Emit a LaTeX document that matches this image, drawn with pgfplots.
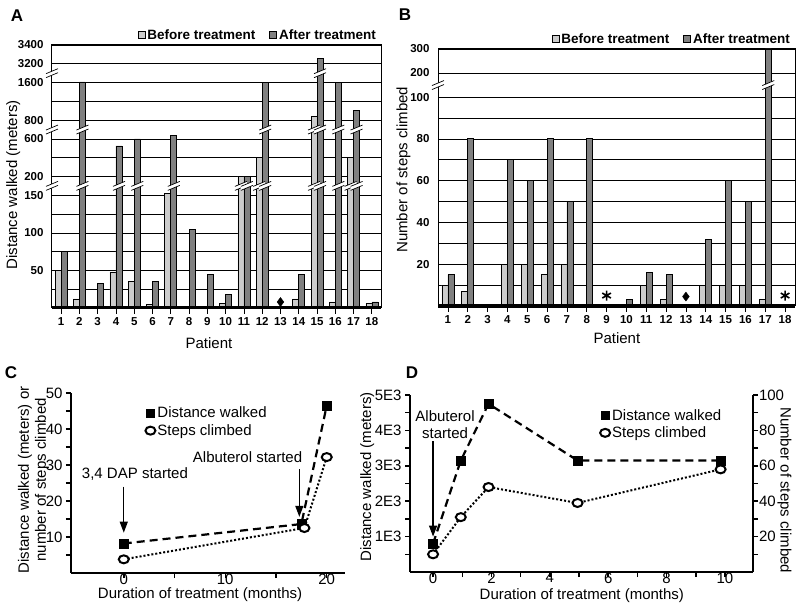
\documentclass[border=0pt]{standalone}
\usepackage{pgfplots}
\pgfplotsset{compat=1.18}
\usepackage{fontspec}
\setmainfont{Liberation Sans}
\usetikzlibrary{arrows.meta}

% double slash used for the axis breaks
\pgfdeclareplotmark{brk}{%
  \pgfpathmoveto{\pgfqpoint{-6pt}{-4.5pt}}%
  \pgfpathlineto{\pgfqpoint{6pt}{0.5pt}}%
  \pgfpathlineto{\pgfqpoint{6pt}{4.5pt}}%
  \pgfpathlineto{\pgfqpoint{-6pt}{-0.5pt}}%
  \pgfpathclose
  \pgfsetfillcolor{white}\pgfusepath{fill}%
  \pgfpathmoveto{\pgfqpoint{-6pt}{-4.5pt}}\pgfpathlineto{\pgfqpoint{6pt}{0.5pt}}%
  \pgfpathmoveto{\pgfqpoint{-6pt}{-0.5pt}}\pgfpathlineto{\pgfqpoint{6pt}{4.5pt}}%
  \pgfusepath{stroke}}

\pgfplotsset{
  /pgf/number format/assume math mode=true,
  barpanel/.style={
    scale only axis, anchor=south west,
    xmin=0.5, xmax=18.5, xtick={1,...,18}, xtick pos=bottom,
    tick align=outside, major tick length=6pt,
    ytick style={draw=none}, xtick style={black, line width=0.8pt},
    ymajorgrids, yminorgrids,
    grid style={black, line width=0.6pt}, minor grid style={black, line width=0.6pt},
    axis line style={line width=1pt},
    ticklabel style={font=\bfseries\fontsize{11.5}{12}\selectfont},
    yticklabel style={xshift=1pt},
    label style={font=\fontsize{15}{17}\selectfont},
    clip=false,
    legend columns=2,
    legend style={draw=none, fill=none, font=\bfseries\fontsize{13.5}{15}\selectfont,
      at={(1,1)}, anchor=south east,
      /tikz/every even column/.append style={column sep=12pt}},
    legend image code/.code={\draw[##1, line width=0.6pt] (-2pt,-3.5pt) rectangle (5pt,3.5pt);},
  },
  before/.style={ybar, bar width=6pt, bar shift=-3pt, fill=gray!40, draw=black, line width=0.7pt},
  after/.style={ybar, bar width=6pt, bar shift=3pt, fill=gray, draw=black, line width=0.7pt},
  linepanel/.style={
    scale only axis, anchor=south west,
    axis x line*=bottom, axis y line*=left,
    axis line style={line width=2.5pt, -},
    tick align=outside, major tick length=5pt, minor tick length=5pt,
    tick style={black, line width=1.5pt},
    ticklabel style={font=\fontsize{15}{15}\selectfont},
    xticklabel style={yshift=8pt},
    label style={font=\fontsize{15}{17}\selectfont},
    legend cell align=left,
    legend style={draw=none, fill=none, font=\fontsize{15}{15}\selectfont, row sep=1pt},
  },
  dist/.style={black, line width=2.2pt, dash pattern=on 8pt off 5pt,
    mark=square*, mark size=4.5pt, mark options={solid, line width=0.5pt}},
  steps/.style={black, line width=2pt, dash pattern=on 2pt off 2pt,
    mark=*, mark size=5pt, mark options={solid, fill=white, line width=2pt, yscale=0.8}},
}

\begin{document}
\begin{tikzpicture}
\path[use as bounding box] (0,0) rectangle (800pt,610pt);

% ---------------- A ----------------
\begin{axis}[barpanel, at={(52pt,302pt)}, width=329pt, height=263pt,
  ymin=0, ymax=14,
  y filter/.expression={min(y,150)/25+min(max(y-150,0),50)/50+min(max(y-200,0),400)/200+min(max(y-600,0),200)/200+min(max(y-800,0),800)/400+min(max(y-1600,0),1600)/1600+max(y-3200,0)/200},
  ytick={2,4,6,7,9,10,12,13,14},
  yticklabels={50,100,150,200,600,800,1600,3200,3400},
  minor ytick={1,3,5,8,11},
  ylabel={Distance walked (meters)}, xlabel={Patient},
  ylabel style={at={(axis description cs:-0.118,0.468)}, anchor=center},
  xlabel style={at={(axis description cs:0.477,0)}, anchor=center, yshift=-35pt},
]
\addplot[before] coordinates {(1,50) (2,12) (4,48) (5,35) (6,5) (7,155) (10,6) (11,200) (12,400) (14,12) (15,880) (16,8) (17,400) (18,6)};
\addplot[after] coordinates {(1,75) (2,1650) (3,33) (4,525) (5,600) (6,35) (7,640) (8,105) (9,45) (10,18) (11,200) (12,1600) (14,45) (15,3260) (16,1600) (17,1000) (18,8)};
\legend{Before treatment, After treatment}
\addplot[only marks, mark=brk, line width=0.7pt, xshift=-3pt, forget plot] coordinates {(11,175) (12,175) (15,175) (17,175) (15,700)};
\addplot[only marks, mark=brk, line width=0.7pt, xshift=3pt, forget plot] coordinates {(2,175) (4,175) (5,175) (7,175) (11,175) (12,175) (15,175) (16,175) (17,175) (2,700) (12,700) (15,700) (16,700) (17,700) (15,2400)};
\addplot[only marks, mark=brk, line width=0.7pt, forget plot] coordinates {(0.5,175) (0.5,700) (0.5,2400)};
\addplot[only marks, mark=diamond*, mark size=4.5pt, black, forget plot] coordinates {(13,8)};
\draw[line width=3pt] (rel axis cs:0,0) -- (rel axis cs:1,0);
\end{axis}

% ---------------- B ----------------
\begin{axis}[barpanel, at={(438pt,304pt)}, width=357pt, height=257pt,
  ymin=0, ymax=12.3,
  y filter/.expression={min(y,100)/10+min(max(y-100,0),100)/100*1.15+max(y-200,0)/100*1.15},
  ytick={2,4,6,8,10,11.15,12.3},
  yticklabels={20,40,60,80,100,200,300},
  minor ytick={1,3,5,7,9},
  ylabel={Number of steps climbed}, xlabel={Patient},
  ylabel style={at={(axis description cs:-0.097,0.53)}, anchor=center},
  xlabel style={at={(axis description cs:0.501,0)}, anchor=center, yshift=-32pt},
]
\addplot[before] coordinates {(1,10) (2,7) (4,20) (5,20) (6,15) (7,20) (11,10) (12,3) (14,10) (15,10) (16,10) (17,3)};
\addplot[after] coordinates {(1,15) (2,80) (4,70) (5,60) (6,80) (7,50) (8,80) (10,3) (11,16) (12,15) (14,32) (15,60) (16,50) (17,300)};
\legend{Before treatment, After treatment}
\addplot[only marks, mark=brk, line width=0.7pt, xshift=3pt, forget plot] coordinates {(17,150)};
\addplot[only marks, mark=brk, line width=0.7pt, forget plot] coordinates {(0.5,150)};
\addplot[only marks, mark=diamond*, mark size=4.5pt, black, forget plot] coordinates {(13,4.5)};
\addplot[only marks, mark=asterisk, mark size=5pt, line width=1.6pt, black, forget plot] coordinates {(9,5) (18,5)};
\draw[line width=4pt] (rel axis cs:0,0) -- (rel axis cs:1,0);
\end{axis}

% ---------------- C ----------------
\begin{axis}[linepanel, at={(71pt,37pt)}, width=274pt, height=180pt,
  xmin=-5.2, xmax=21.8, ymin=0, ymax=50,
  xtick={0,10,20}, minor xtick={5,15},
  ytick={10,20,30,40,50}, minor ytick={5,15,25,35,45},
  xlabel={Duration of treatment (months)},
  ylabel={Distance walked (meters) or\\number of steps climbed},
  ylabel style={align=center, at={(axis description cs:-0.137,0.517)}, anchor=center},
  xlabel style={at={(axis description cs:0.471,0)}, anchor=center, yshift=-22pt},
  legend style={at={(0.26,0.945)}, anchor=north west},
]
\addlegendimage{only marks, mark=square*, mark size=4pt, black}
\addlegendentry{Distance walked}
\addlegendimage{only marks, mark=*, mark size=5pt, mark options={fill=white, line width=2pt, yscale=0.8}, black}
\addlegendentry{Steps climbed}
\addplot[dist, forget plot] coordinates {(0,8.2) (17.5,13.6) (20,46.5)};
\addplot[steps, forget plot] coordinates {(0,3.8) (17.8,12.5) (20,32.2)};
\node[font=\fontsize{15}{17}\selectfont] at (axis cs:1.1,27.4) {3,4 DAP started};
\draw[-{Triangle[width=8pt,length=11pt]}, line width=1.2pt] (axis cs:0,24) -- (axis cs:0,11.2);
\node[font=\fontsize{15}{17}\selectfont] at (axis cs:12.2,32.1) {Albuterol started};
\draw[-{Triangle[width=8pt,length=11pt]}, line width=1.2pt] (axis cs:17.3,28.8) -- (axis cs:17.3,15.6);
\end{axis}

% ---------------- D ----------------
\begin{axis}[linepanel, at={(410pt,38pt)}, width=343pt, height=177pt,
  xmin=-0.79, xmax=10.96, ymin=0, ymax=5000,
  xtick={0,2,4,6,8,10}, minor xtick={1,3,5,7,9},
  ytick={1000,2000,3000,4000,5000}, yticklabels={1E3,2E3,3E3,4E3,5E3},
  minor ytick={500,1500,2500,3500,4500},
  xlabel={Duration of treatment (months)},
  ylabel={Distance walked (meters)},
  ylabel style={at={(axis description cs:-0.125,0.537)}, anchor=center},
  xlabel style={at={(axis description cs:0.501,0)}, anchor=center, yshift=-24pt},
  legend style={at={(0.545,0.943)}, anchor=north west},
]
\addlegendimage{only marks, mark=square*, mark size=4pt, black}
\addlegendentry{Distance walked}
\addlegendimage{only marks, mark=*, mark size=5pt, mark options={fill=white, line width=2pt, yscale=0.8}, black}
\addlegendentry{Steps climbed}
\addplot[dist, forget plot] coordinates {(0,800) (0.95,3150) (1.9,4750) (4.95,3150) (9.85,3150)};
\node[font=\fontsize{15}{17}\selectfont, align=center] at (axis cs:0.41,4150) {Albuterol\\started};
\draw[-{Triangle[width=8pt,length=11pt]}, line width=1.2pt] (axis cs:0,3700) -- (axis cs:0,1000);
\end{axis}
\begin{axis}[linepanel, at={(410pt,38pt)}, width=343pt, height=177pt,
  axis y line*=right, axis x line=none,
  xmin=-0.79, xmax=10.96, ymin=0, ymax=100,
  ytick={20,40,60,80,100}, minor ytick={10,30,50,70,90},
  yticklabel style={xshift=-2.5pt},
  ylabel={Number of steps climbed},
  ylabel style={rotate=180, at={(axis description cs:1.092,0.462)}, anchor=center},
]
\addplot[steps] coordinates {(0,10) (0.95,31) (1.9,48) (4.95,39) (9.85,58)};
\end{axis}

% panel letters
\node[font=\bfseries\fontsize{17}{17}\selectfont] at (17pt,594pt) {A};
\node[font=\bfseries\fontsize{17}{17}\selectfont] at (405pt,595pt) {B};
\node[font=\bfseries\fontsize{17}{17}\selectfont] at (11pt,237pt) {C};
\node[font=\bfseries\fontsize{17}{17}\selectfont] at (412pt,237pt) {D};
\end{tikzpicture}
\end{document}
